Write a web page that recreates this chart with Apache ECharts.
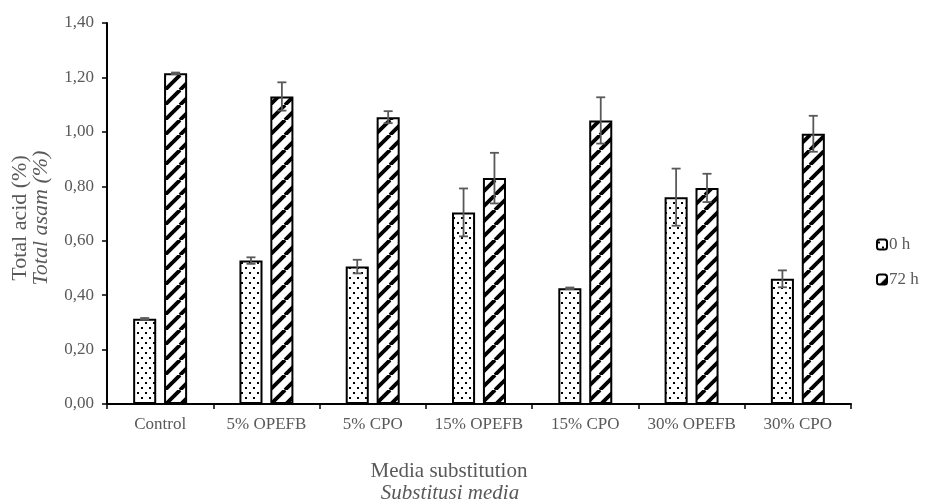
<!DOCTYPE html>
<html>
<head>
<meta charset="utf-8">
<script src="https://cdn.jsdelivr.net/npm/echarts@6/dist/echarts.min.js"></script>
<style>html,body{margin:0;padding:0;background:#fff}#c{width:935px;height:504px}</style>
</head>
<body>
<div id="c"></div>
<script>
const categories = ['Control', '5% OPEFB', '5% CPO', '15% OPEFB', '15% CPO', '30% OPEFB', '30% CPO'];
const seriesNames = ['0 h', '72 h'];
const val0h = [0.313, 0.527, 0.505, 0.704, 0.425, 0.760, 0.460];
const val72h = [1.215, 1.130, 1.054, 0.830, 1.042, 0.794, 0.993];
const err0h = [0.003, 0.012, 0.025, 0.088, 0.003, 0.105, 0.031];
const err72h = [0.003, 0.052, 0.022, 0.093, 0.085, 0.052, 0.066];
const yMin = 0, yMax = 1.4, yStep = 0.2;

const FONT = '"Liberation Serif", "Times New Roman", serif';
const GRAY = '#595959';

function dotPattern() {
  const c = document.createElement('canvas');
  c.width = 8; c.height = 10;
  const g = c.getContext('2d');
  g.fillStyle = '#fff'; g.fillRect(0, 0, 8, 10);
  g.fillStyle = '#000';
  g.fillRect(1, 2, 2, 2);
  g.fillRect(5, 7, 2, 2);
  return c;
}
function stripePattern() {
  const s = 15;
  const c = document.createElement('canvas');
  c.width = s; c.height = s;
  const g = c.getContext('2d');
  g.fillStyle = '#fff'; g.fillRect(0, 0, s, s);
  g.strokeStyle = '#000'; g.lineWidth = 3.8;
  for (const k of [-s, 0, s]) {
    g.beginPath(); g.moveTo(k, s); g.lineTo(k + s, 0); g.stroke();
  }
  return c;
}

const BAR_W = 0.217, BAR_GAP = 0.34;
function errorSeries(name, vals, errs, sign) {
  return {
    type: 'custom',
    name: name + ' err',
    z: 5,
    silent: true,
    renderItem: function (params, api) {
      const i = api.value(0), v = api.value(1), e = api.value(2);
      const catW = api.size([1, 0])[0];
      const off = sign * catW * BAR_W * (1 + BAR_GAP) / 2;
      const top = api.coord([i, v + e]);
      const bot = api.coord([i, v - e]);
      const x = top[0] + off;
      const cap = 4.5;
      const st = { stroke: GRAY, lineWidth: 1.8 };
      return {
        type: 'group',
        children: [
          { type: 'line', shape: { x1: x, y1: top[1], x2: x, y2: bot[1] }, style: st },
          { type: 'line', shape: { x1: x - cap, y1: top[1], x2: x + cap, y2: top[1] }, style: st },
          { type: 'line', shape: { x1: x - cap, y1: bot[1], x2: x + cap, y2: bot[1] }, style: st }
        ]
      };
    },
    data: vals.map((v, i) => [i, v, errs[i]]),
    encode: { x: 0, y: 1 }
  };
}

const chart = echarts.init(document.getElementById('c'));
const dotImg = dotPattern(), stripeImg = stripePattern();
chart.setOption({
  animation: false,
  backgroundColor: '#fff',
  grid: { left: 107, right: 84, top: 23, bottom: 100, containLabel: false },
  legend: {
    orient: 'vertical', left: 871, top: 231,
    itemWidth: 10, itemHeight: 10, itemGap: 18,
    data: seriesNames,
    textStyle: { fontFamily: FONT, fontSize: 17, color: GRAY, padding: [0, 0, 0, -3] }
  },
  xAxis: {
    type: 'category', data: categories,
    axisLine: { lineStyle: { color: '#000', width: 2 } },
    axisTick: { show: true, interval: 0, length: 5, lineStyle: { color: '#000', width: 1.5 } },
    axisLabel: { interval: 0, fontFamily: FONT, fontSize: 17, color: GRAY, margin: 12 }
  },
  yAxis: {
    type: 'value', min: yMin, max: yMax, interval: yStep,
    splitLine: { show: false },
    axisLine: { show: true, lineStyle: { color: '#000', width: 2 } },
    axisTick: { show: true, length: 5, lineStyle: { color: '#000', width: 1.5 } },
    axisLabel: {
      fontFamily: FONT, fontSize: 17, color: GRAY, margin: 13,
      formatter: v => v.toFixed(2).replace('.', ',')
    }
  },
  graphic: [
    { type: 'text', x: 20, y: 218, rotation: Math.PI / 2,
      style: { text: 'Total acid (%)', font: '22px ' + FONT, fill: GRAY, textAlign: 'center', textVerticalAlign: 'middle' } },
    { type: 'text', x: 41, y: 218, rotation: Math.PI / 2,
      style: { text: 'Total asam (%)', font: 'italic 22px ' + FONT, fill: GRAY, textAlign: 'center', textVerticalAlign: 'middle' } },
    { type: 'text', x: 449, y: 471,
      style: { text: 'Media substitution', font: '21px ' + FONT, fill: GRAY, textAlign: 'center', textVerticalAlign: 'middle' } },
    { type: 'text', x: 450, y: 493,
      style: { text: 'Substitusi media', font: 'italic 21px ' + FONT, fill: GRAY, textAlign: 'center', textVerticalAlign: 'middle' } }
  ],
  series: [
    {
      type: 'bar', name: seriesNames[0], data: val0h,
      barWidth: (BAR_W * 100) + '%', barGap: (BAR_GAP * 100) + '%',
      itemStyle: { color: { image: dotImg, repeat: 'repeat' }, borderColor: '#000', borderWidth: 2 }
    },
    {
      type: 'bar', name: seriesNames[1], data: val72h,
      barWidth: (BAR_W * 100) + '%', barGap: (BAR_GAP * 100) + '%',
      itemStyle: { color: { image: stripeImg, repeat: 'repeat' }, borderColor: '#000', borderWidth: 2 }
    },
    errorSeries(seriesNames[0], val0h, err0h, -1),
    errorSeries(seriesNames[1], val72h, err72h, 1)
  ]
});
</script>
</body>
</html>
